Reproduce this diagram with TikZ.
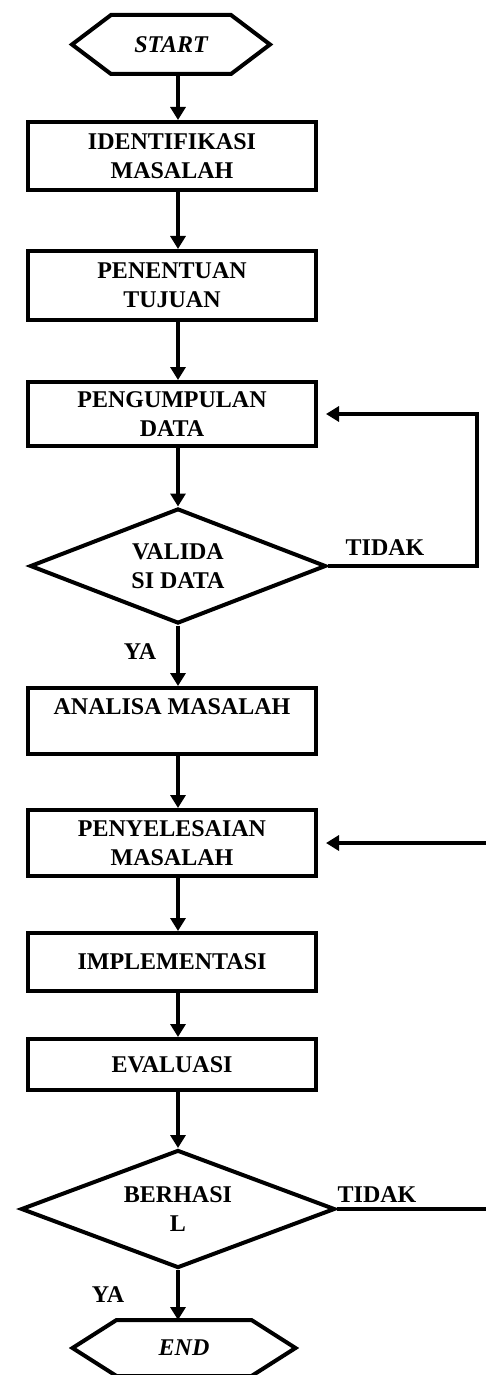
\documentclass[tikz,border=0pt]{standalone}
\usepackage{fontspec}
\setmainfont{Liberation Serif}
\usetikzlibrary{arrows.meta,shapes.geometric}

\tikzset{
  txt/.style={font=\bfseries\fontsize{12}{14.5}\selectfont},
  procbox/.style={txt, draw, line width=2pt, minimum width=144pt, align=center, inner sep=2pt},
  decbox/.style={txt, draw, diamond, line width=2pt, aspect=2.5, inner sep=0pt, align=center},
  termbox/.style={txt, font=\bfseries\itshape\fontsize{12}{14.5}\selectfont, inner sep=0pt, outer sep=0pt},
  flow/.style={line width=2pt, -{Triangle[width=7.5pt,length=6.5pt]}},
  plain/.style={line width=2pt}
}

\begin{document}
\begin{tikzpicture}[x=0.5pt, y=-0.5pt]

\useasboundingbox (0,0) rectangle (486,1375);

\coordinate (axis) at (178,0);
\coordinate (loopR) at (477,0);
\coordinate (inR) at (490,843);
\coordinate (outR) at (490,1209);

\node[termbox, minimum width=99pt, minimum height=29.5pt] (start) at (171,44.5) {START};

\draw[plain] (start.west) -- ([xshift=19.5pt]start.north west) -- ([xshift=-19.5pt]start.north east)
  -- (start.east) -- ([xshift=-19.5pt]start.south east) -- ([xshift=19.5pt]start.south west) -- cycle;

\node[procbox, minimum height=34pt] (ident) at (172,156) {IDENTIFIKASI\\MASALAH};

\node[procbox, minimum height=34.5pt] (tujuan) at (172,285.5) {PENENTUAN\\TUJUAN};

\node[procbox, minimum height=32pt] (data) at (172,414) {PENGUMPULAN\\DATA};

\node[decbox, minimum width=148pt, minimum height=57.5pt] (valid) at (178,566) {VALIDA\\SI DATA};

\node[procbox, minimum height=33pt] (analisa) at (172,721) {ANALISA MASALAH\\~};

\node[procbox, minimum height=33pt] (solusi) at (172,843) {PENYELESAIAN\\MASALAH};

\node[procbox, minimum height=29pt] (impl) at (172,962) {IMPLEMENTASI};

\node[procbox, minimum height=25.5pt] (eval) at (172,1064.5) {EVALUASI};

\node[decbox, minimum width=157pt, minimum height=59pt] (hasil) at (178,1209) {BERHASI\\L};

\node[termbox, minimum width=111.5pt, minimum height=28pt] (end) at (184,1348) {END};

\draw[plain] (end.west) -- ([xshift=22pt]end.north west) -- ([xshift=-22pt]end.north east)
  -- (end.east) -- ([xshift=-22pt]end.south east) -- ([xshift=22pt]end.south west) -- cycle;

\node[txt] (tidak1) at (385,548) {TIDAK};
\node[txt] (ya1) at (140,652) {YA};
\node[txt] (tidak2) at (377,1195) {TIDAK};
\node[txt] (ya2) at (108,1295) {YA};

\draw[flow] (start.south -| axis) -- (ident.north -| axis);
\draw[flow] (ident.south -| axis) -- (tujuan.north -| axis);
\draw[flow] (tujuan.south -| axis) -- (data.north -| axis);
\draw[flow] (data.south -| axis) -- (valid.north);
\draw[flow] (valid.south) -- (analisa.north -| axis);
\draw[flow] (analisa.south -| axis) -- (solusi.north -| axis);
\draw[flow] (solusi.south -| axis) -- (impl.north -| axis);
\draw[flow] (impl.south -| axis) -- (eval.north -| axis);
\draw[flow] (eval.south -| axis) -- (hasil.north);
\draw[flow] (hasil.south) -- (end.north -| axis);

\draw[flow, shorten >=4pt] (valid.east) -| (loopR |- data.east) -- (data.east);

\draw[flow, shorten >=4pt] (inR) -- (solusi.east);

\draw[plain] (hasil.east) -- (outR);

\end{tikzpicture}
\end{document}
